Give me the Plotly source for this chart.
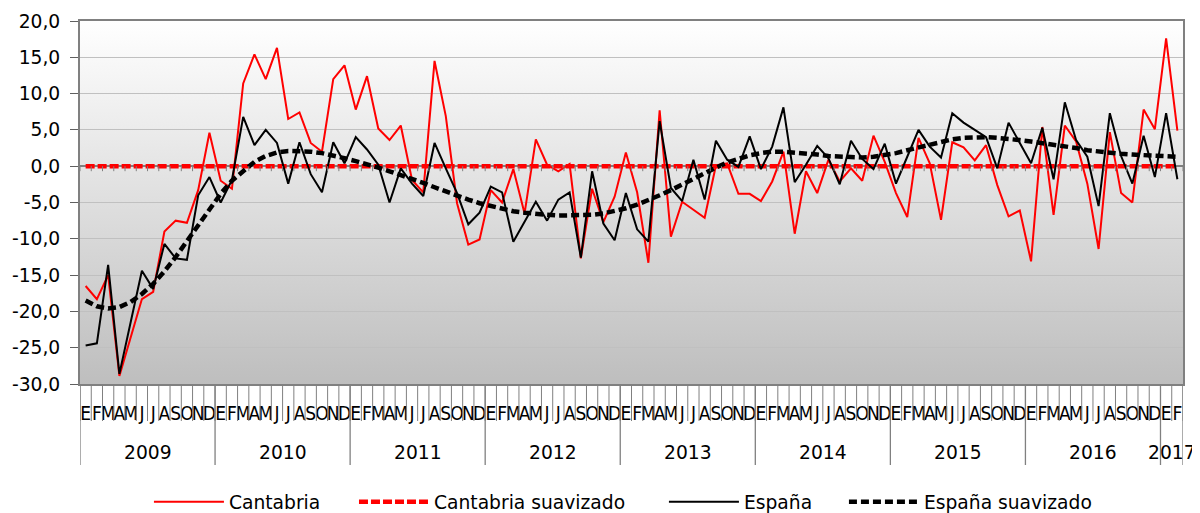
import base64
import plotly.graph_objects as go

years = ["2009", "2010", "2011", "2012", "2013", "2014", "2015", "2016", "2017"]
months_per_year = [12, 12, 12, 12, 12, 12, 12, 12, 2]
month_letters = ["E", "F", "M", "A", "M", "J", "J", "A", "S", "O", "N", "D"]

cantabria = [
    -16.5, -18.3, -15.0, -28.9, -23.6, -18.3, -17.3, -9.0, -7.5, -7.8, -3.3, 4.6,
    -2.0, -3.1, 11.4, 15.4, 12.0, 16.3, 6.5, 7.4, 3.2, 2.0, 12.0, 13.9,
    7.8, 12.4, 5.2, 3.6, 5.6, -1.9, -3.6, 14.5, 6.9, -5.1, -10.8, -10.1,
    -3.3, -5.0, -0.4, -6.5, 3.7, 0.2, -0.7, 0.3, -12.7, -3.1, -7.7, -4.2,
    1.9, -3.6, -13.3, 7.7, -9.7, -4.9, -6.0, -7.1, 0.1, 0.4, -3.8, -3.8,
    -4.8, -2.1, 2.0, -9.3, -0.7, -3.7, 0.9, -2.1, -0.3, -2.0, 4.2, 0.6,
    -3.7, -7.0, 3.9, 0.4, -7.4, 3.3, 2.6, 0.8, 2.9, -2.6, -6.9, -6.1,
    -13.1, 5.4, -6.7, 5.6, 3.4, -2.4, -11.4, 4.7, -3.7, -5.0, 7.8, 5.1,
    17.6, 4.9,
]
cantabria_suav = [
    0.0, 0.0, 0.0, 0.0, 0.0, 0.0, 0.0, 0.0, 0.0, 0.0, 0.0, 0.0,
    0.0, 0.0, 0.0, 0.0, 0.0, 0.0, 0.0, 0.0, 0.0, 0.0, 0.0, 0.0,
    0.0, 0.0, 0.0, 0.0, 0.0, 0.0, 0.0, 0.0, 0.0, 0.0, 0.0, 0.0,
    0.0, 0.0, 0.0, 0.0, 0.0, 0.0, 0.0, 0.0, 0.0, 0.0, 0.0, 0.0,
    0.0, 0.0, 0.0, 0.0, 0.0, 0.0, 0.0, 0.0, 0.0, 0.0, 0.0, 0.0,
    0.0, 0.0, 0.0, 0.0, 0.0, 0.0, 0.0, 0.0, 0.0, 0.0, 0.0, 0.0,
    0.0, 0.0, 0.0, 0.0, 0.0, 0.0, 0.0, 0.0, 0.0, 0.0, 0.0, 0.0,
    0.0, 0.0, 0.0, 0.0, 0.0, 0.0, 0.0, 0.0, 0.0, 0.0, 0.0, 0.0,
    0.0, 0.0,
]
espana = [
    -24.7, -24.4, -13.6, -28.6, -21.5, -14.4, -16.9, -10.7, -12.7, -12.9, -4.0, -1.5,
    -5.0, -1.9, 6.8, 2.9, 5.0, 3.2, -2.4, 3.3, -1.1, -3.6, 3.3, 0.4,
    4.0, 2.3, 0.2, -5.0, -0.3, -2.4, -4.1, 3.2, -0.3, -3.7, -8.0, -6.4,
    -2.8, -3.6, -10.4, -7.7, -4.9, -7.5, -4.6, -3.6, -12.6, -0.7, -7.9, -10.2,
    -3.7, -8.7, -10.4, 6.2, -3.0, -4.8, 0.9, -4.6, 3.5, 0.9, -0.1, 4.1,
    -0.4, 2.7, 8.1, -2.2, 0.2, 2.8, 1.1, -2.5, 3.5, 1.0, -0.4, 3.1,
    -2.4, 1.3, 5.0, 2.7, 1.2, 7.3, 6.0, 5.0, 4.0, -0.3, 6.0, 3.2,
    0.4, 5.3, -1.8, 8.8, 3.6, 1.3, -5.5, 7.3, 1.4, -2.4, 4.2, -1.5,
    7.3, -1.8,
]
espana_suav = [
    -18.5, -19.3, -19.6, -19.4, -18.7, -17.6, -16.2, -14.5, -12.5, -10.3, -8.0, -5.8,
    -3.8, -2.0, -0.6, 0.6, 1.4, 1.9, 2.1, 2.1, 2.0, 1.8, 1.5, 1.1,
    0.7, 0.3, -0.2, -0.7, -1.2, -1.7, -2.3, -2.9, -3.5, -4.0, -4.6, -5.1,
    -5.5, -5.9, -6.2, -6.4, -6.6, -6.7, -6.8, -6.8, -6.8, -6.7, -6.5, -6.2,
    -5.8, -5.3, -4.7, -4.0, -3.3, -2.5, -1.7, -0.9, -0.2, 0.5, 1.0, 1.5,
    1.8, 2.0, 2.0, 1.9, 1.8, 1.6, 1.4, 1.3, 1.2, 1.2, 1.3, 1.5,
    1.8, 2.2, 2.6, 3.0, 3.4, 3.7, 3.9, 4.0, 4.0, 3.9, 3.8, 3.6,
    3.4, 3.2, 3.0, 2.8, 2.5, 2.2, 2.0, 1.8, 1.7, 1.6, 1.5, 1.4,
    1.4, 1.3,
]
y_tickvals = [-30, -25, -20, -15, -10, -5, 0, 5, 10, 15, 20]
y_ticktext = ["-30,0", "-25,0", "-20,0", "-15,0", "-10,0", "-5,0", "0,0", "5,0", "10,0", "15,0", "20,0"]

# ---- derived positions (category index along the month axis) ----
n = len(cantabria)
idx = list(range(n))
month_text = [month_letters[i % 12] for i in idx]
month_bounds = [i - 0.5 for i in range(n + 1)]
year_starts = [sum(months_per_year[:k]) for k in range(len(years))]
year_centers = [s + m / 2 - 0.5 for s, m in zip(year_starts, months_per_year)]
year_bounds = [s - 0.5 for s in year_starts] + [n - 0.5]

FONT = "DejaVu Sans"
NARROW = "Liberation Sans Narrow, DejaVu Sans Condensed, DejaVu Sans"
FS = 18.7
GRAY = "#808080"

fig = go.Figure()
fig.add_trace(go.Scatter(x=idx, y=cantabria, mode="lines", name="Cantabria", legend="legend",
                         line=dict(color="#ff0000", width=2)))
fig.add_trace(go.Scatter(x=idx, y=cantabria_suav, mode="lines", name="Cantabria suavizado",
                         legend="legend2", line=dict(color="#ff0000", width=4.5, dash="9px,3px")))
fig.add_trace(go.Scatter(x=idx, y=espana, mode="lines", name="España", legend="legend3",
                         line=dict(color="#000000", width=2)))
fig.add_trace(go.Scatter(x=idx, y=espana_suav, mode="lines", name="España suavizado",
                         legend="legend4", line=dict(color="#000000", width=4.5, dash="8px,4px")))

svg = ('<svg xmlns="http://www.w3.org/2000/svg" width="100" height="100" viewBox="0 0 100 100" '
       'preserveAspectRatio="none"><defs><linearGradient id="g" x1="0" y1="0" x2="0" y2="1">'
       '<stop offset="0" stop-color="#ffffff"/><stop offset="1" stop-color="#bebebe"/>'
       '</linearGradient></defs><rect x="0" y="0" width="100" height="100" fill="url(#g)"/></svg>')
svg_uri = "data:image/svg+xml;base64," + base64.b64encode(svg.encode()).decode()

shapes = []
# month boundary ticks below the category axis
for b in month_bounds:
    shapes.append(dict(type="line", xref="x", yref="paper", ysizemode="pixel", yanchor=0,
                       x0=b, x1=b, y0=0, y1=-37, line=dict(color=GRAY, width=1)))
# small ticks along the zero line
for b in month_bounds:
    shapes.append(dict(type="line", xref="x", yref="y", ysizemode="pixel", yanchor=0,
                       x0=b, x1=b, y0=0, y1=-5, line=dict(color=GRAY, width=1)))
# year dividers
for b in year_bounds:
    shapes.append(dict(type="line", xref="x", yref="paper", ysizemode="pixel", yanchor=0,
                       x0=b, x1=b, y0=0, y1=-81, line=dict(color=GRAY, width=1.3)))

annotations = []
for c, yr in zip(year_centers, years):
    annotations.append(dict(x=c, xref="x", y=0, yref="paper", yshift=-68, yanchor="middle",
                            xanchor="center", text=yr, showarrow=False,
                            font=dict(family=FONT, size=FS, color="black")))

xrange_ = [-0.5, n - 0.5]


def legend_box(xpos):
    return dict(orientation="h", x=xpos, xanchor="left", y=-0.325, yanchor="middle",
                font=dict(family=FONT, size=FS), bgcolor="rgba(0,0,0,0)", itemwidth=70)


fig.update_layout(
    width=1192, height=505,
    margin=dict(l=72, r=17, t=13, b=129, autoexpand=False),
    paper_bgcolor="white",
    plot_bgcolor="rgba(0,0,0,0)",
    font=dict(family=FONT, size=FS, color="black"),
    images=[dict(source=svg_uri, xref="paper", yref="paper", x=0, y=1, sizex=1, sizey=1,
                 xanchor="left", yanchor="top", sizing="stretch", layer="below")],
    shapes=shapes,
    annotations=annotations,
    legend=legend_box(0.0625),
    legend2=legend_box(0.2484),
    legend3=legend_box(0.5294),
    legend4=legend_box(0.6926),
    showlegend=True,
    xaxis=dict(
        range=xrange_, automargin=False, showgrid=False, zeroline=False,
        showline=True, linecolor=GRAY, linewidth=2, mirror=True,
        tickmode="array", tickvals=idx, ticktext=month_text, ticks="",
        tickangle=0, ticklabelstandoff=11,
        tickfont=dict(family=NARROW, size=19),
    ),
    yaxis=dict(
        range=[-30, 20], automargin=False, tickmode="array", tickvals=y_tickvals, ticktext=y_ticktext,
        showgrid=True, gridcolor="#c0c0c0", gridwidth=1,
        zeroline=True, zerolinecolor=GRAY, zerolinewidth=2,
        showline=True, linecolor=GRAY, linewidth=2, mirror=True,
        ticks="outside", ticklen=8, tickcolor="#606060", ticklabelstandoff=6,
        tickfont=dict(family=FONT, size=FS),
    ),
)

fig.write_html("out.html")
